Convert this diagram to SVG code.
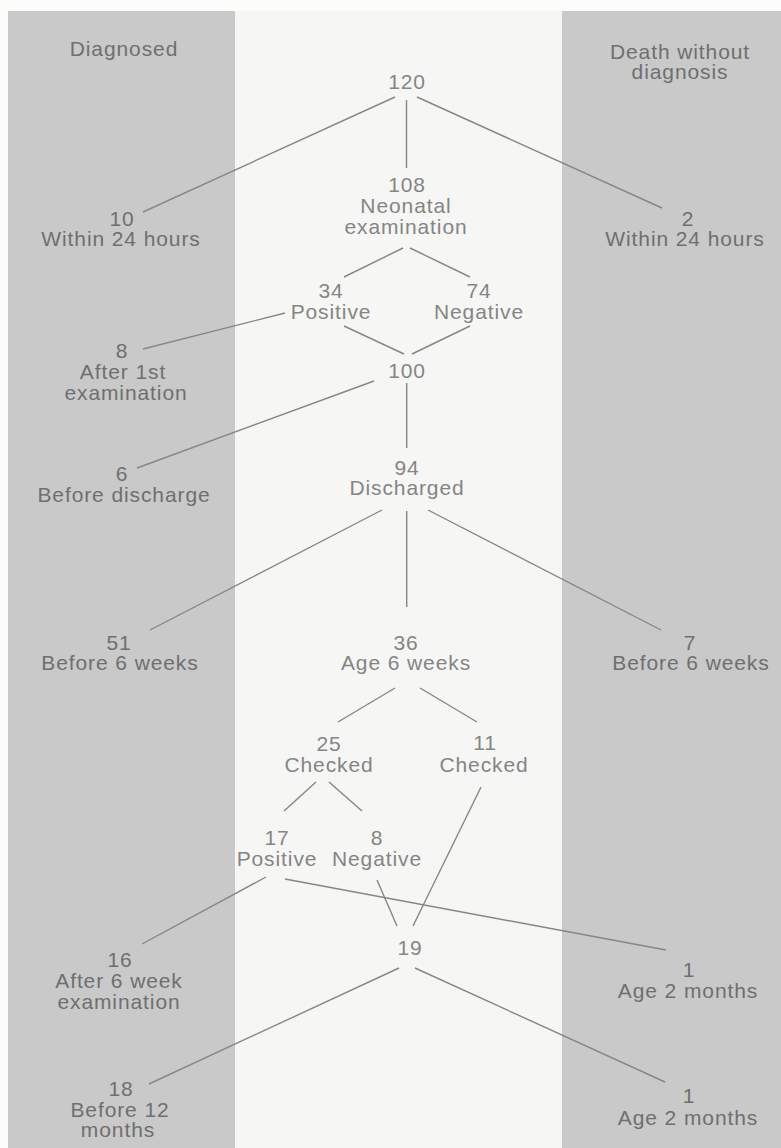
<svg xmlns="http://www.w3.org/2000/svg" width="781" height="1148" viewBox="0 0 781 1148">
<style>
.t{font-family:"Liberation Sans",Arial,Helvetica,sans-serif;font-size:21px;letter-spacing:0.9px;text-anchor:middle;fill:#858585}
.b .t,.b.t{fill:#6f6f6f}
.c line{stroke:#868686;stroke-width:1.4;fill:none}
.band{fill:#c9c9c9}
</style>
<rect x="0" y="0" width="781" height="1148" fill="#fcfcfb"/>
<rect x="235" y="11" width="327" height="1137" fill="#f6f6f4"/>
<rect class="band" x="8" y="11" width="227" height="1137"/>
<rect class="band" x="562" y="11" width="219" height="1137"/>

<g id="connectors" class="c">
<line x1="395" y1="97" x2="143" y2="212"/>
<line x1="406.5" y1="100" x2="406.5" y2="168"/>
<line x1="417" y1="97" x2="662" y2="208"/>
<line x1="403" y1="248" x2="344" y2="277"/>
<line x1="410" y1="248" x2="470" y2="277"/>
<line x1="285" y1="313" x2="143" y2="349"/>
<line x1="344" y1="326" x2="404" y2="354"/>
<line x1="470" y1="326" x2="412" y2="354"/>
<line x1="374" y1="381" x2="137" y2="468"/>
<line x1="406.7" y1="383" x2="406.7" y2="448"/>
<line x1="382" y1="510" x2="150" y2="630"/>
<line x1="406.7" y1="511" x2="406.7" y2="607"/>
<line x1="428" y1="510" x2="661" y2="630"/>
<line x1="395" y1="688" x2="338" y2="722"/>
<line x1="420" y1="688" x2="477" y2="722"/>
<line x1="316" y1="782" x2="284" y2="811"/>
<line x1="329" y1="782" x2="362" y2="811"/>
<line x1="481" y1="787" x2="413" y2="926"/>
<line x1="377" y1="880" x2="397" y2="926"/>
<line x1="285" y1="879" x2="666" y2="950"/>
<line x1="266" y1="877" x2="142" y2="944"/>
<line x1="399" y1="968" x2="149" y2="1084"/>
<line x1="415" y1="968" x2="665" y2="1082"/>
</g>

<g id="hdr-diagnosed" class="b"><text class="t" x="124" y="56">Diagnosed</text></g>
<g id="hdr-death" class="b"><text class="t"><tspan x="680" y="59">Death without</tspan><tspan x="680" y="79">diagnosis</tspan></text></g>

<g id="n120"><text class="t" x="407" y="89">120</text></g>
<g id="n10" class="b"><text class="t"><tspan x="122" y="226">10</tspan><tspan x="121" y="246">Within 24 hours</tspan></text></g>
<g id="n2" class="b"><text class="t"><tspan x="688" y="226">2</tspan><tspan x="685" y="246">Within 24 hours</tspan></text></g>
<g id="n108"><text class="t"><tspan x="407" y="192">108</tspan><tspan x="406" y="213">Neonatal</tspan><tspan x="406" y="234">examination</tspan></text></g>
<g id="n34"><text class="t"><tspan x="331" y="298">34</tspan><tspan x="331" y="319">Positive</tspan></text></g>
<g id="n74"><text class="t"><tspan x="479" y="298">74</tspan><tspan x="479" y="319">Negative</tspan></text></g>
<g id="n8a" class="b"><text class="t"><tspan x="122" y="358">8</tspan><tspan x="123" y="379">After 1st</tspan><tspan x="126" y="400">examination</tspan></text></g>
<g id="n100"><text class="t" x="407" y="378">100</text></g>
<g id="n6" class="b"><text class="t"><tspan x="122" y="481">6</tspan><tspan x="124" y="502">Before discharge</tspan></text></g>
<g id="n94"><text class="t"><tspan x="407" y="475">94</tspan><tspan x="407" y="495">Discharged</tspan></text></g>
<g id="n51" class="b"><text class="t"><tspan x="119" y="650">51</tspan><tspan x="120" y="670">Before 6 weeks</tspan></text></g>
<g id="n36"><text class="t"><tspan x="406" y="650">36</tspan><tspan x="406" y="670">Age 6 weeks</tspan></text></g>
<g id="n7" class="b"><text class="t"><tspan x="690" y="650">7</tspan><tspan x="691" y="670">Before 6 weeks</tspan></text></g>
<g id="n25"><text class="t"><tspan x="329" y="751">25</tspan><tspan x="329" y="772">Checked</tspan></text></g>
<g id="n11"><text class="t"><tspan x="485" y="750">11</tspan><tspan x="484" y="772">Checked</tspan></text></g>
<g id="n17"><text class="t"><tspan x="277" y="845">17</tspan><tspan x="277" y="866">Positive</tspan></text></g>
<g id="n8b"><text class="t"><tspan x="377" y="845">8</tspan><tspan x="377" y="866">Negative</tspan></text></g>
<g id="n16" class="b"><text class="t"><tspan x="120" y="967">16</tspan><tspan x="119" y="988">After 6 week</tspan><tspan x="119" y="1009">examination</tspan></text></g>
<g id="n19"><text class="t" x="410" y="955">19</text></g>
<g id="n1a" class="b"><text class="t"><tspan x="689" y="977">1</tspan><tspan x="688" y="998">Age 2 months</tspan></text></g>
<g id="n18" class="b"><text class="t"><tspan x="121" y="1096">18</tspan><tspan x="120" y="1117">Before 12</tspan><tspan x="118" y="1137">months</tspan></text></g>
<g id="n1b" class="b"><text class="t"><tspan x="689" y="1103">1</tspan><tspan x="688" y="1125">Age 2 months</tspan></text></g>
</svg>
